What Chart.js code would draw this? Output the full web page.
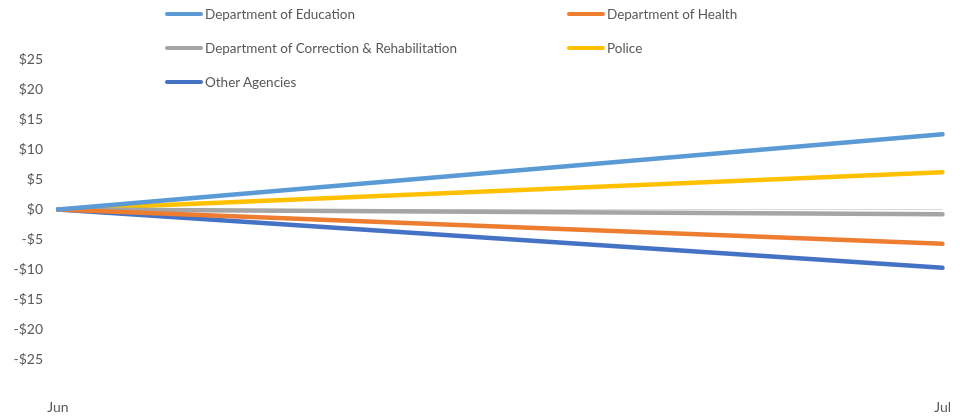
<!DOCTYPE html>
<html>
<head>
<meta charset="utf-8">
<script src="https://cdn.jsdelivr.net/npm/chart.js@4/dist/chart.umd.min.js"></script>
<style>
  body { margin: 0; background: #fff; overflow: hidden; }
  #wrap { position: relative; width: 960px; height: 416px; }
  #chart { display: block; }
  #legend { position: absolute; left: 0; top: 0; width: 960px; font-family: Lato, "Open Sans", sans-serif; font-size: 13.5px; color: #595959; }
  .item { position: absolute; display: flex; align-items: center; height: 18px; }
  .swatch { width: 38px; height: 4px; border-radius: 2px; margin-right: 2px; }
</style>
</head>
<body>
<div id="wrap">
  <canvas id="chart" width="960" height="416"></canvas>
  <div id="legend"></div>
</div>
<script>
  // months on the x axis
  var months = ["Jun", "Jul"];

  // change in spend per agency
  var education = [0, 12.5];
  var health = [0, -5.7];
  var correction = [0, -0.8];
  var police = [0, 6.2];
  var otherAgencies = [0, -9.7];

  var seriesNames = ["Department of Education", "Department of Health", "Department of Correction & Rehabilitation", "Police", "Other Agencies"];
  var seriesColors = ["#5B9BD5", "#ED7D31", "#A5A5A5", "#FFC000", "#4472C4"];
  var seriesData = [education, health, correction, police, otherAgencies];

  var datasets = seriesNames.map(function (name, i) {
    return {
      label: name,
      data: seriesData[i],
      borderColor: seriesColors[i],
      backgroundColor: seriesColors[i],
      borderWidth: 4.5,
      pointRadius: 0,
      tension: 0,
      borderCapStyle: 'round'
    };
  });

  // legend laid out in two columns like the original
  var legendPos = [[165, 5], [567, 5], [165, 39], [567, 39], [165, 73]];
  var legend = document.getElementById('legend');
  seriesNames.forEach(function (name, i) {
    var el = document.createElement('div');
    el.className = 'item';
    el.style.left = legendPos[i][0] + 'px';
    el.style.top = legendPos[i][1] + 'px';
    el.innerHTML = '<span class="swatch" style="background:' + seriesColors[i] + '"></span><span></span>';
    el.lastChild.textContent = name;
    legend.appendChild(el);
  });

  var ctx = document.getElementById('chart').getContext('2d');
  var myChart = new Chart(ctx, {
    type: 'line',
    data: { labels: months, datasets: datasets },
    options: {
      responsive: false,
      animation: false,
      layout: { padding: { top: 29, right: 17, left: 0, bottom: 0 } },
      plugins: { legend: { display: false }, tooltip: { enabled: false } },
      scales: {
        x: {
          grid: { display: false, drawTicks: false },
          border: { display: false },
          ticks: { color: '#595959', font: { family: 'Lato', size: 14 }, padding: 9, maxRotation: 0 },
          afterFit: function (s) { s.height = 26; }
        },
        y: {
          min: -30,
          max: 30,
          border: { display: false },
          grid: {
            drawTicks: false,
            lineWidth: 1,
            color: function (c) { return c.tick && c.tick.value === 0 ? '#D9D9D9' : 'rgba(0,0,0,0)'; }
          },
          ticks: {
            stepSize: 5,
            padding: 15,
            color: '#595959',
            font: { family: 'Lato', size: 14 },
            callback: function (v) {
              if (Math.abs(v) === 30) return '';
              return v < 0 ? '-$' + Math.abs(v) : '$' + v;
            }
          },
          afterFit: function (s) { s.width = 58; }
        }
      }
    }
  });
</script>
</body>
</html>
